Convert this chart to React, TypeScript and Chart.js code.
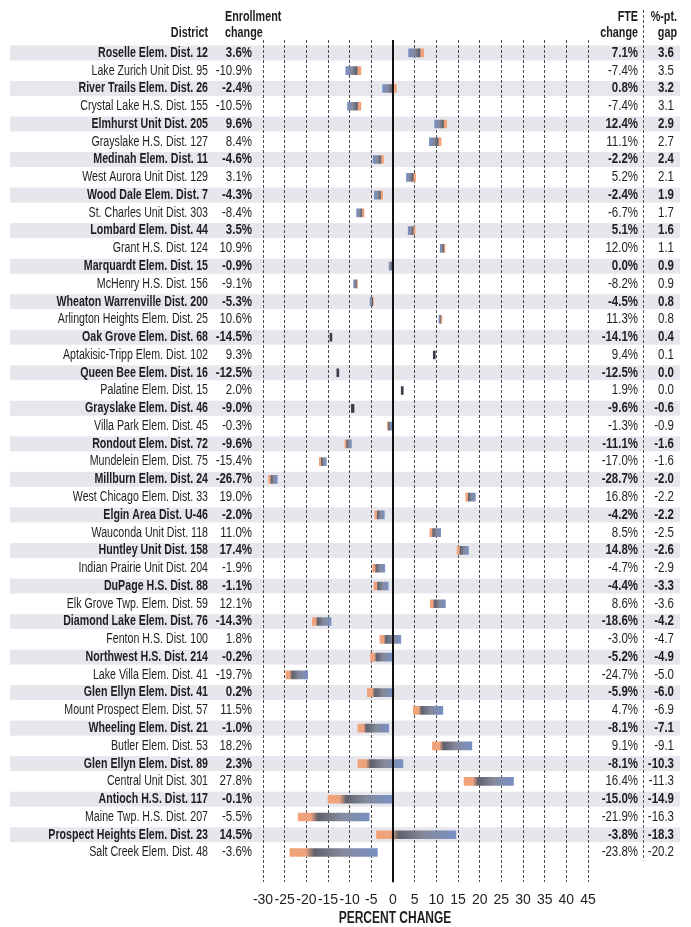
import React, { useEffect, useRef } from "react";
import { Chart, registerables } from "chart.js";

Chart.register(...registerables);

const districts = [
  "Roselle Elem. Dist. 12", "Lake Zurich Unit Dist. 95", "River Trails Elem. Dist. 26", "Crystal Lake H.S. Dist. 155",
  "Elmhurst Unit Dist. 205", "Grayslake H.S. Dist. 127", "Medinah Elem. Dist. 11", "West Aurora Unit Dist. 129",
  "Wood Dale Elem. Dist. 7", "St. Charles Unit Dist. 303", "Lombard Elem. Dist. 44", "Grant H.S. Dist. 124",
  "Marquardt Elem. Dist. 15", "McHenry H.S. Dist. 156", "Wheaton Warrenville Dist. 200", "Arlington Heights Elem. Dist. 25",
  "Oak Grove Elem. Dist. 68", "Aptakisic-Tripp Elem. Dist. 102", "Queen Bee Elem. Dist. 16", "Palatine Elem. Dist. 15",
  "Grayslake Elem. Dist. 46", "Villa Park Elem. Dist. 45", "Rondout Elem. Dist. 72", "Mundelein Elem. Dist. 75",
  "Millburn Elem. Dist. 24", "West Chicago Elem. Dist. 33", "Elgin Area Dist. U-46", "Wauconda Unit Dist. 118",
  "Huntley Unit Dist. 158", "Indian Prairie Unit Dist. 204", "DuPage H.S. Dist. 88", "Elk Grove Twp. Elem. Dist. 59",
  "Diamond Lake Elem. Dist. 76", "Fenton H.S. Dist. 100", "Northwest H.S. Dist. 214", "Lake Villa Elem. Dist. 41",
  "Glen Ellyn Elem. Dist. 41", "Mount Prospect Elem. Dist. 57", "Wheeling Elem. Dist. 21", "Butler Elem. Dist. 53",
  "Glen Ellyn Elem. Dist. 89", "Central Unit Dist. 301", "Antioch H.S. Dist. 117", "Maine Twp. H.S. Dist. 207",
  "Prospect Heights Elem. Dist. 23", "Salt Creek Elem. Dist. 48",
];

const enrollmentChange = [
  3.6, -10.9, -2.4, -10.5, 9.6, 8.4, -4.6, 3.1, -4.3, -8.4, 3.5, 10.9, -0.9, -9.1, -5.3, 10.6,
  -14.5, 9.3, -12.5, 2.0, -9.0, -0.3, -9.6, -15.4, -26.7, 19.0, -2.0, 11.0, 17.4, -1.9, -1.1, 12.1,
  -14.3, 1.8, -0.2, -19.7, 0.2, 11.5, -1.0, 18.2, 2.3, 27.8, -0.1, -5.5, 14.5, -3.6,
];

const fteChange = [
  7.1, -7.4, 0.8, -7.4, 12.4, 11.1, -2.2, 5.2, -2.4, -6.7, 5.1, 12.0, 0.0, -8.2, -4.5, 11.3,
  -14.1, 9.4, -12.5, 1.9, -9.6, -1.3, -11.1, -17.0, -28.7, 16.8, -4.2, 8.5, 14.8, -4.7, -4.4, 8.6,
  -18.6, -3.0, -5.2, -24.7, -5.9, 4.7, -8.1, 9.1, -8.1, 16.4, -15.0, -21.9, -3.8, -23.8,
];

const gapPoints = [
  3.6, 3.5, 3.2, 3.1, 2.9, 2.7, 2.4, 2.1, 1.9, 1.7, 1.6, 1.1, 0.9, 0.9, 0.8, 0.8,
  0.4, 0.1, 0.0, 0.0, -0.6, -0.9, -1.6, -1.6, -2.0, -2.2, -2.2, -2.5, -2.6, -2.9, -3.3, -3.6,
  -4.2, -4.7, -4.9, -5.0, -6.0, -6.9, -7.1, -9.1, -10.3, -11.3, -14.9, -16.3, -18.3, -20.2,
];

const xMin = -30;
const xMax = 45;
const xStep = 5;

const TEXT = "#1e1e22";
const BAND = "#e7e6ed";
const FONT = '"Liberation Sans", Arial, sans-serif';

function drawText(
  ctx: CanvasRenderingContext2D,
  text: string,
  x: number,
  y: number,
  align: "left" | "right" | "center",
  size: number,
  bold: boolean,
  sx: number
) {
  ctx.save();
  ctx.font = `${bold ? "bold " : ""}${size}px ${FONT}`;
  ctx.textBaseline = "middle";
  ctx.textAlign = align;
  ctx.fillStyle = TEXT;
  ctx.translate(x, y);
  ctx.scale(sx, 1);
  ctx.fillText(text, 0, 0);
  ctx.restore();
}

const fmtPct = (v: number) => `${v.toFixed(1)}%`;

const tablePlugin = {
  id: "tablePlugin",
  beforeDraw(chart: any) {
    const ctx = chart.ctx as CanvasRenderingContext2D;
    const y = chart.scales.y;
    ctx.save();
    ctx.fillStyle = BAND;
    districts.forEach((_, i) => {
      if (i % 2 === 0) {
        const cy = y.getPixelForValue(i);
        ctx.fillRect(10, cy - 7.5, 670, 15);
      }
    });
    ctx.restore();
  },
  beforeDatasetsDraw(chart: any) {
    const ctx = chart.ctx as CanvasRenderingContext2D;
    const xs = chart.scales.x;
    const meta = chart.getDatasetMeta(0);
    meta.data.forEach((el: any, i: number) => {
      const a = xs.getPixelForValue(fteChange[i]);
      const b = xs.getPixelForValue(enrollmentChange[i]);
      if (!isFinite(a) || !isFinite(b)) return;
      if (Math.abs(b - a) < 3) {
        el.options.backgroundColor = "#3a3d48";
        return;
      }
      const g = ctx.createLinearGradient(a, 0, b, 0);
      g.addColorStop(0, "#f2a276");
      g.addColorStop(0.18, "#eda37f");
      g.addColorStop(0.28, "#5f616c");
      g.addColorStop(0.6, "#858a9c");
      g.addColorStop(1, "#7890c4");
      el.options.backgroundColor = g;
    });
  },
  afterDraw(chart: any) {
    const ctx = chart.ctx as CanvasRenderingContext2D;
    const x = chart.scales.x;
    const y = chart.scales.y;
    const area = chart.chartArea;

    const x0 = x.getPixelForValue(0);
    ctx.save();
    ctx.strokeStyle = "#111";
    ctx.lineWidth = 2;
    ctx.beginPath();
    ctx.moveTo(x0, area.top);
    ctx.lineTo(x0, area.bottom);
    ctx.stroke();

    ctx.strokeStyle = "#555";
    ctx.lineWidth = 1;
    ctx.setLineDash([3, 2]);
    ctx.beginPath();
    ctx.moveTo(643.5, 10);
    ctx.lineTo(643.5, y.getPixelForValue(districts.length - 1) + 8);
    ctx.stroke();
    ctx.restore();

    drawText(ctx, "District", 208, 33, "right", 14, true, 0.77);
    drawText(ctx, "Enrollment", 225, 17, "left", 14, true, 0.77);
    drawText(ctx, "change", 225, 33, "left", 14, true, 0.77);
    drawText(ctx, "FTE", 638, 17, "right", 14, true, 0.77);
    drawText(ctx, "change", 638, 33, "right", 14, true, 0.77);
    drawText(ctx, "%-pt.", 677, 17, "right", 14, true, 0.77);
    drawText(ctx, "gap", 677, 33, "right", 14, true, 0.77);

    districts.forEach((name, i) => {
      const cy = y.getPixelForValue(i);
      const bold = i % 2 === 0;
      drawText(ctx, name, 208, cy, "right", 14, bold, 0.76);
      drawText(ctx, fmtPct(enrollmentChange[i]), 252, cy, "right", 14, bold, 0.82);
      drawText(ctx, fmtPct(fteChange[i]), 638, cy, "right", 14, bold, 0.82);
      drawText(ctx, gapPoints[i].toFixed(1), 674, cy, "right", 14, bold, 0.82);
    });

    drawText(ctx, "PERCENT CHANGE", x0 + 2, 919, "center", 16, true, 0.75);
  },
};

export default function App() {
  const ref = useRef<HTMLCanvasElement | null>(null);

  useEffect(() => {
    document.body.style.margin = "0";
    const canvas = ref.current;
    if (!canvas) return;

    const data = districts.map((_, i) => ({ y: i, x: [fteChange[i], enrollmentChange[i]] }));

    const chart = new Chart(canvas, {
      type: "bar",
      data: {
        datasets: [
          {
            data: data as any,
            barThickness: 8,
            minBarLength: 2,
            borderWidth: 0,
            borderSkipped: false,
            backgroundColor: (c: any) => (c.dataIndex >= 0 ? "#7d8599" : "#7d8599"),
          },
        ],
      },
      options: {
        indexAxis: "y",
        responsive: false,
        animation: false,
        events: [],
        layout: { padding: { left: 263, right: 103, top: 40, bottom: 8 } },
        plugins: { legend: { display: false }, tooltip: { enabled: false }, title: { display: false } },
        scales: {
          x: {
            type: "linear",
            min: xMin,
            max: xMax,
            ticks: {
              stepSize: xStep,
              padding: 10,
              color: TEXT,
              autoSkip: false,
              maxRotation: 0,
              minRotation: 0,
              font: { family: FONT, size: 14 },
            },
            grid: { color: "#4a4a4a", lineWidth: 1, drawTicks: false },
            border: { display: false, dash: [3, 2] },
          },
          y: {
            type: "linear",
            reverse: true,
            offset: false,
            min: -0.727,
            max: 46.67,
            display: false,
            grid: { display: false, offset: false },
          },
        },
      },
      plugins: [tablePlugin],
    });

    return () => chart.destroy();
  }, []);

  return (
    <div style={{ width: 691, height: 927, background: "#fff" }}>
      <canvas ref={ref} width={691} height={927} style={{ display: "block" }} />
    </div>
  );
}
